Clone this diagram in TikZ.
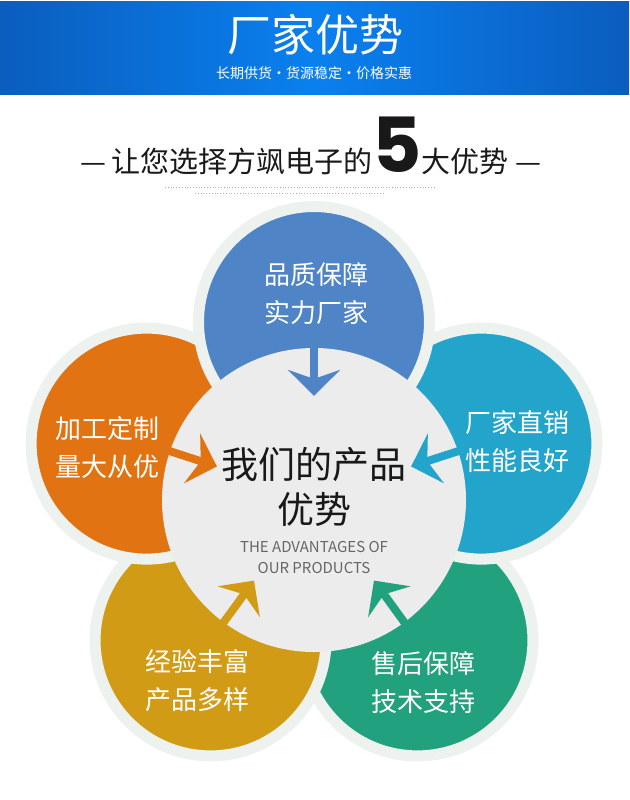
\documentclass[tikz,border=0pt]{standalone}
\usepackage{fontspec}
\setmainfont{Noto Sans CJK SC}
\newfontfamily\numfont{Poppins}
\usepackage{xcolor}
\usetikzlibrary{arrows.meta, positioning, calc}

\definecolor{bannerdark}{HTML}{0B5DBE}
\definecolor{bannerlight}{HTML}{0A80EF}
\definecolor{halo}{HTML}{EDF2EE}
\definecolor{coregray}{HTML}{ECECEC}
\definecolor{pblue}{HTML}{4F84C6}
\definecolor{porange}{HTML}{E27312}
\definecolor{pcyan}{HTML}{23A5CB}
\definecolor{pgold}{HTML}{D29B16}
\definecolor{pgreen}{HTML}{21A17D}

\begin{document}
\begin{tikzpicture}[
  x=1pt, y=-1pt,
  petal/.style={circle, fill=#1, draw=halo, line width=11pt,
                minimum size=231pt, inner sep=0pt},
  core/.style={circle, fill=coregray, minimum size=304pt, inner sep=0pt},
  ptxt/.style={text=white, font=\fontsize{26}{38}\selectfont, align=center},
  arr/.style={draw=#1, line width=8pt,
              -{Stealth[length=26pt, width=52pt, inset=9pt]}}
]
\useasboundingbox[fill=white] (0,0) rectangle (629,800);

% Banner
\shade[left color=bannerdark, right color=bannerdark, middle color=bannerlight]
  (0,2) rectangle (629,94);
\node[text=white, font=\fontsize{44}{44}\selectfont] (title) at (315,35) {厂家优势};
\node[text=white, font=\fontsize{14}{14}\selectfont] (sub) at (314,73)
  {长期供货·货源稳定·价格实惠};

% Headline
\node[anchor=base, font=\fontsize{29}{29}\selectfont, text=black!90] (head) at (311,172)
  {—\,让您选择方飒电子的{\numfont\bfseries\fontsize{76}{76}\selectfont 5}大优势 —};
\draw[dotted, black!30, line width=0.8pt] (165,187) -- (435,187);
\draw[dotted, black!30, line width=0.8pt] (195,193) -- (385,193);

% Petals round the core
\coordinate (c) at (314,498);
\node[petal=pgreen]  (pgr) at ($(c)+(54:176)$)  {};
\node[petal=pgold]   (pgo) at ($(c)+(126:176)$) {};
\node[petal=porange] (por) at ($(c)+(198:176)$) {};
\node[petal=pcyan]   (pcy) at ($(c)+(-18:176)$) {};
\node[petal=pblue]   (pbl) at ($(c)+(-90:176)$) {};
\node[core] (core) at ($(c)+(0,2)$) {};

% Texts
\node[ptxt] (tbl) at (316,294) {品质保障\\实力厂家};
\node[ptxt] (tor) at (107,448) {加工定制\\量大从优};
\node[ptxt] (tcy) at (517,442) {厂家直销\\性能良好};
\node[ptxt] (tgo) at (197,681) {经验丰富\\产品多样};
\node[ptxt] (tgr) at (423,683) {售后保障\\技术支持};

\node[font=\fontsize{37}{45}\selectfont, align=center, text=black!90] (main) at (314,487)
  {我们的产品\\优势};
\node[font=\fontsize{15}{21}\selectfont, align=center, text=black!60] (eng) at (314,557)
  {THE ADVANTAGES OF\\OUR PRODUCTS};

% Arrows into the core
\draw[arr=pblue]   ($(c)!0.88!(pbl)$) -- ($(c)!0.58!(pbl)$);
\draw[arr=porange] ($(c)!0.88!(por)$) -- ($(c)!0.58!(por)$);
\draw[arr=pcyan]   ($(c)!0.88!(pcy)$) -- ($(c)!0.58!(pcy)$);
\draw[arr=pgold]   ($(c)!0.88!(pgo)$) -- ($(c)!0.58!(pgo)$);
\draw[arr=pgreen]  ($(c)!0.88!(pgr)$) -- ($(c)!0.58!(pgr)$);

\end{tikzpicture}
\end{document}
